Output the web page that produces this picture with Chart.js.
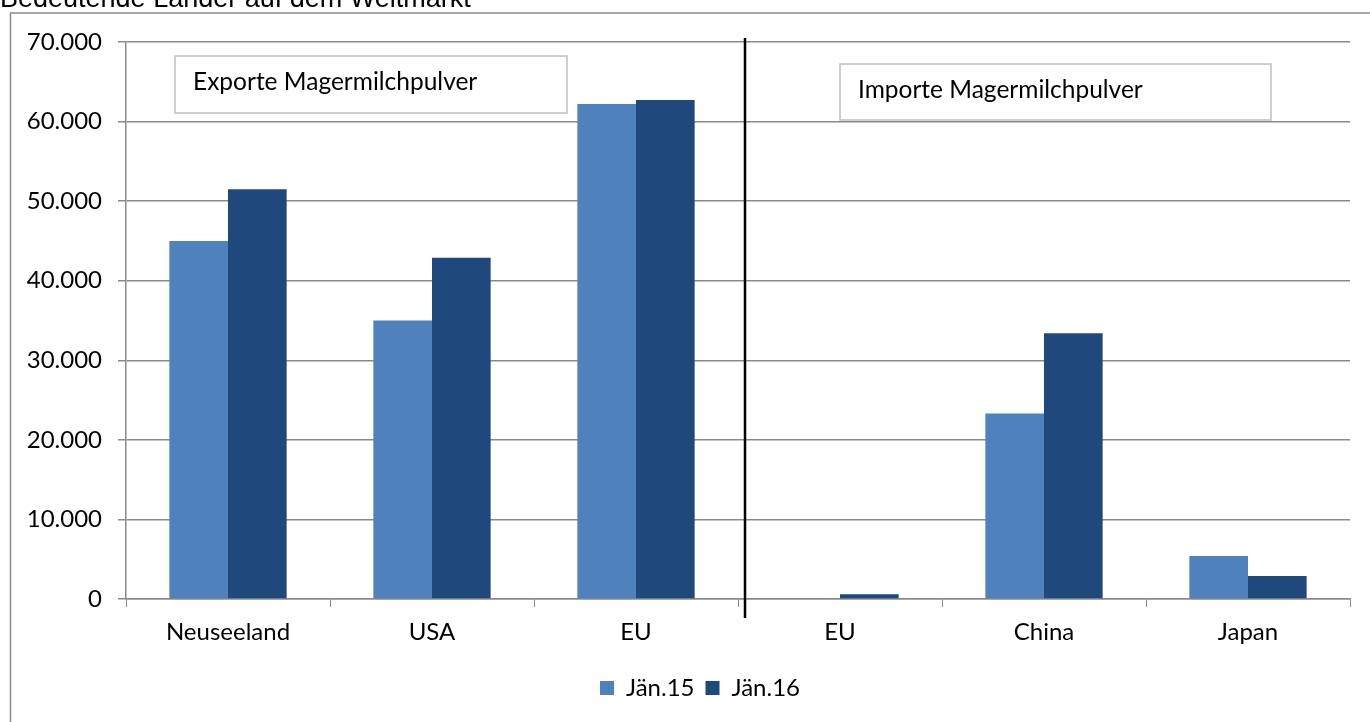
<!DOCTYPE html>
<html>
<head>
<meta charset="utf-8">
<script src="https://cdn.jsdelivr.net/npm/chart.js@4.4.1/dist/chart.umd.min.js"></script>
<style>
  html, body { margin: 0; padding: 0; background: #fff; overflow: hidden; }
  #wrap { position: absolute; left: 0; top: 0; width: 1370px; height: 722px; }
</style>
</head>
<body>
<div id="wrap"><canvas id="myChart" width="1370" height="722"></canvas></div>
<script>
// categories and values
const categories = ['Neuseeland', 'USA', 'EU', 'EU', 'China', 'Japan'];
const jan15 = [45000, 35000, 62200, 0, 23300, 5400];
const jan16 = [51500, 42900, 62700, 600, 33400, 2900];
const seriesNames = ['Jän.15', 'Jän.16'];
const yTicks = [0, 10000, 20000, 30000, 40000, 50000, 60000, 70000];
const chartTitle = 'Bedeutende Länder auf dem Weltmarkt';
const boxTexts = ['Exporte Magermilchpulver', 'Importe Magermilchpulver'];

const FONT = 'Lato, "Open Sans", sans-serif';
const GRID = '#8a8a8a';

function fmt(v) {
  return String(v).replace(/\B(?=(\d{3})+(?!\d))/g, '.');
}

// frame, title, text boxes, divider line
const extras = {
  id: 'extras',
  afterLayout(chart) {
    // legend sits a little right of the canvas centre in the original
    const lg = chart.legend;
    lg.left += 25;
    lg.right += 25;
  },
  beforeDraw(chart) {
    const ctx = chart.ctx;
    ctx.save();
    ctx.fillStyle = '#fff';
    ctx.fillRect(0, 0, chart.width, chart.height);
    ctx.strokeStyle = '#8c8c8c';
    ctx.lineWidth = 1.5;
    ctx.strokeRect(10.5, 13, chart.width + 20, chart.height + 20);
    ctx.fillStyle = '#000';
    ctx.font = '27px "Liberation Sans", Arial, sans-serif';
    ctx.textBaseline = 'alphabetic';
    ctx.fillText(chartTitle, 0, 7);
    ctx.restore();
  },
  afterDatasetsDraw(chart) {
    const ctx = chart.ctx;
    const x = chart.scales.x;
    const a = chart.chartArea;
    ctx.save();
    // separator between exports and imports
    const sep = (x.getPixelForValue(2) + x.getPixelForValue(3)) / 2 + 7;
    ctx.strokeStyle = '#000';
    ctx.lineWidth = 2.5;
    ctx.beginPath();
    ctx.moveTo(sep, a.top - 4);
    ctx.lineTo(sep, a.bottom + 19);
    ctx.stroke();

    const boxes = [
      { x: 175, y: 56, w: 392, h: 57 },
      { x: 840, y: 64, w: 431, h: 56 }
    ];
    ctx.font = '24.5px ' + FONT;
    ctx.textBaseline = 'middle';
    boxes.forEach((b, i) => {
      ctx.fillStyle = '#fff';
      ctx.fillRect(b.x, b.y, b.w, b.h);
      ctx.strokeStyle = '#bfbfbf';
      ctx.lineWidth = 1.5;
      ctx.strokeRect(b.x, b.y, b.w, b.h);
      ctx.fillStyle = '#000';
      ctx.fillText(boxTexts[i], b.x + 18, b.y + b.h / 2 - 2);
    });
    ctx.restore();
  }
};

const chartRef = document.getElementById('myChart').getContext('2d');
new Chart(chartRef, {
  type: 'bar',
  data: {
    labels: categories,
    datasets: [
      { label: seriesNames[0], data: jan15, backgroundColor: '#4f81bd', borderWidth: 0 },
      { label: seriesNames[1], data: jan16, backgroundColor: '#1f497d', borderWidth: 0 }
    ]
  },
  options: {
    responsive: false,
    animation: false,
    devicePixelRatio: 1,
    layout: { padding: { left: 0, top: 42, right: 20, bottom: 12 } },
    datasets: { bar: { categoryPercentage: 0.575, barPercentage: 1.0 } },
    scales: {
      x: {
        grid: { display: true, offset: true, drawOnChartArea: false, drawTicks: true, tickLength: 8, color: GRID },
        border: { display: true, color: GRID, width: 1.5 },
        ticks: { color: '#000', font: { family: FONT, size: 24 }, padding: 11 },
        afterFit(scale) { scale.height = 66; }
      },
      y: {
        min: 0,
        max: 70000,
        afterBuildTicks(scale) { scale.ticks = yTicks.map(v => ({ value: v })); },
        grid: { color: GRID, lineWidth: 1.5, tickLength: 8 },
        border: { display: true, color: GRID, width: 1.5 },
        ticks: { color: '#000', font: { family: FONT, size: 24 }, padding: 16, callback: v => fmt(v) },
        afterFit(scale) { scale.width = 126; }
      }
    },
    plugins: {
      legend: {
        position: 'bottom',
        labels: { boxWidth: 14, boxHeight: 14, color: '#000', font: { family: FONT, size: 24 }, padding: 11 }
      },
      tooltip: { enabled: false }
    }
  },
  plugins: [extras]
});
</script>
</body>
</html>
